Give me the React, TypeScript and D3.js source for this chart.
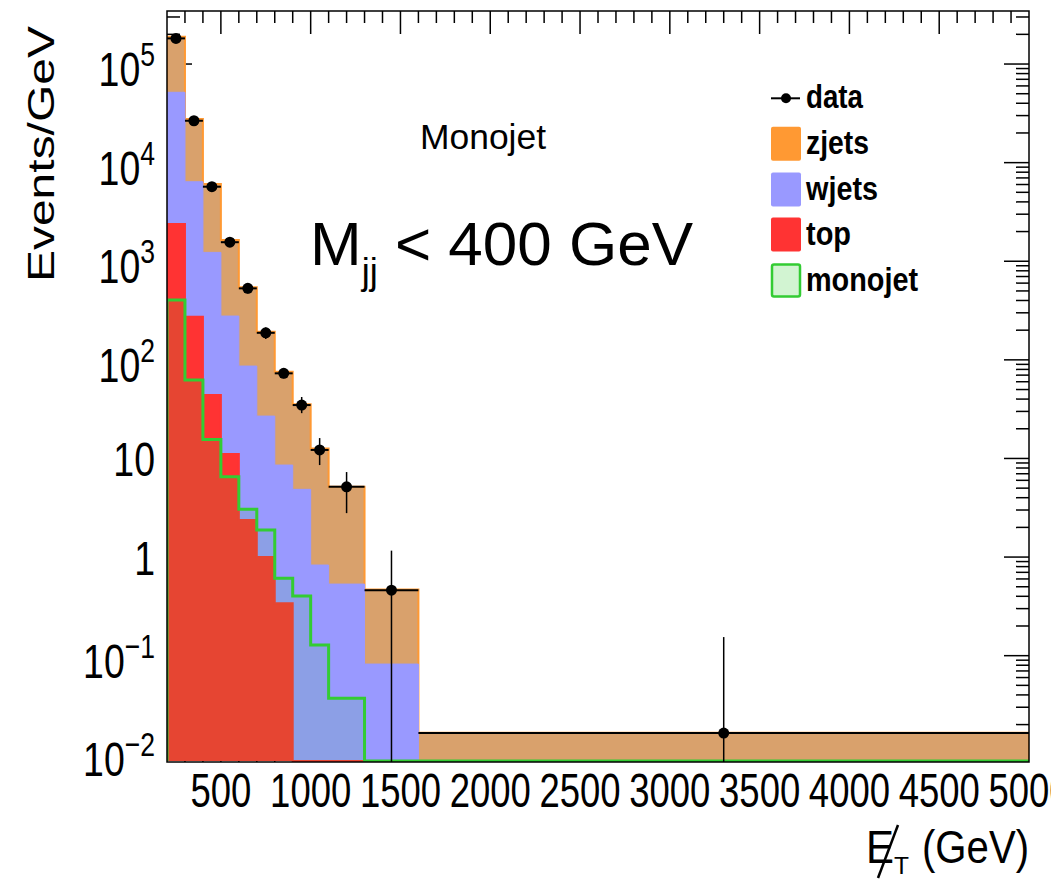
import React from 'react';
import * as d3 from 'd3';

// ---------- data ----------
const binEdges = [200, 300, 400, 500, 600, 700, 800, 900, 1000, 1100, 1300, 1600, 5000];
const dataValues = [182000, 26600, 5700, 1560, 531, 188, 73, 34.8, 12.2, 5.16, 0.462, 0.0164];
const dataErrLow = [2000, 600, 250, 120, 60, 25, 8, 6.0, 3.63, 2.37, 0.462, 0.0164];
const dataErrHigh = [2000, 600, 250, 120, 60, 25, 8, 7.2, 3.9, 2.12, 0.70, 0.138];
const topValues = [2380, 274, 44, 11.1, 2.37, 1.0, 0.341, 0, 0, 0, 0, 0];
const wjetsValues = [49320, 6126, 1186, 267, 84.1, 25.9, 8.23, 4.86, 0.83, 0.532, 0.0822, 0];
const zjetsValues = [137300, 21300, 4840, 1362, 457, 166, 67.1, 30.7, 11.8, 4.63, 0.388, 0.0165];
const monojetValues = [405, 62.4, 15.6, 6.52, 3.05, 1.88, 0.608, 0.403, 0.128, 0.0369, 0, 0];
const xTickValues = [500, 1000, 1500, 2000, 2500, 3000, 3500, 4000, 4500, 5000];
const xTickLabels = ['500', '1000', '1500', '2000', '2500', '3000', '3500', '4000', '4500', '5000'];
const yTickExponents = [-2, -1, 0, 1, 2, 3, 4, 5];
const legendLabels = ['data', 'zjets', 'wjets', 'top', 'monojet'];

// ---------- layout ----------
const W = 1051;
const H = 881;
const L = 167, R = 1029, T = 11, B = 762;
const yMin = 0.00835, yMax = 3.45e5;
const yBase = 761;
const FONT = '"Liberation Sans", Arial, Helvetica, sans-serif';

const x = d3.scaleLinear().domain([200, 5000]).range([L, R]);
const y = d3.scaleLog().domain([yMin, yMax]).range([B, T]);
const yc = (v: number) => (v <= yMin ? yBase : Math.min(y(v), yBase));

type Row = { [k: string]: number };
const rows: Row[] = dataValues.map((_, i) => ({
  top: topValues[i],
  wjets: wjetsValues[i],
  zjets: zjetsValues[i],
}));
const stack = d3.stack<Row>().keys(['top', 'wjets', 'zjets']);
const layers = stack(rows);

function stepPts(vals: number[]): [number, number][] {
  const pts: [number, number][] = [];
  vals.forEach((v, i) => {
    pts.push([x(binEdges[i]), yc(v)]);
    pts.push([x(binEdges[i + 1]), yc(v)]);
  });
  return pts;
}
const areaGen = d3.area<[number, number]>().x(d => d[0]).y0(yBase).y1(d => d[1]);
const lineGen = d3.line<[number, number]>().x(d => d[0]).y(d => d[1]);
function outline(vals: number[]) {
  const pts = stepPts(vals);
  return lineGen([[pts[0][0], yBase], ...pts, [pts[pts.length - 1][0], yBase]]);
}

const layerStyles = [
  { fill: '#ff3333', stroke: '#ff3333', sw: 2 },
  { fill: '#9999ff', stroke: '#9999ff', sw: 1 },
  { fill: '#d9a16c', stroke: '#ff9933', sw: 2 },
];

export default function App() {
  const cum = layers.map(l => l.map(d => d[1]));
  const rightTicks: { v: number; major: boolean }[] = [];
  for (let e = -3; e <= 5; e++) {
    for (let k = 1; k <= 9; k++) {
      const v = k * Math.pow(10, e);
      if (v >= yMin && v <= yMax) rightTicks.push({ v, major: k === 1 });
    }
  }
  const topTicks: { v: number; major: boolean }[] = [];
  for (let v = 300; v < 5000; v += 100) topTicks.push({ v, major: v % 500 === 0 });

  const lx = 771, rowY = [98.3, 143.7, 189.5, 234.5, 280.5];
  const legendWidths = [57, 63, 72, 45, 112];

  return (
    <svg width={W} height={H} style={{ position: 'absolute', left: 0, top: 0, background: '#fff' }}
      fontFamily={FONT}>
      <defs>
        <clipPath id="plotClip">
          <rect x={L} y={T} width={R - L} height={B - T} />
        </clipPath>
      </defs>

      <rect width={W} height={H} fill="#fff" />

      {/* axis ticks (drawn under histograms) */}
      <g stroke="#000" strokeWidth={1.5}>
        {rightTicks.map((t, i) => (
          <g key={'r' + i}>
            <line x1={R} x2={R - (t.major ? 25 : 13)} y1={y(t.v)} y2={y(t.v)} />
            <line x1={L} x2={L + (t.major ? 25 : 13)} y1={y(t.v)} y2={y(t.v)} />
          </g>
        ))}
        {topTicks.map((t, i) => (
          <g key={'t' + i}>
            <line x1={x(t.v)} x2={x(t.v)} y1={T} y2={T + (t.major ? 23 : 12)} />
            <line x1={x(t.v)} x2={x(t.v)} y1={B} y2={B - (t.major ? 23 : 12)} />
          </g>
        ))}
      </g>

      {/* stacked histograms */}
      <g clipPath="url(#plotClip)">
        {[2, 1, 0].map(li => (
          <g key={'layer' + li}>
            <path d={areaGen(stepPts(cum[li])) || ''} fill={layerStyles[li].fill} />
            <path d={outline(cum[li]) || ''} fill="none" stroke={layerStyles[li].stroke}
              strokeWidth={layerStyles[li].sw} />
          </g>
        ))}
        {/* monojet overlay (dotted fill approximated by a light green tint) */}
        <path d={areaGen(stepPts(monojetValues)) || ''} fill="#33cc33" fillOpacity={0.12} />
        <path d={outline(monojetValues) || ''} fill="none" stroke="#33cc33" strokeWidth={3} />

        {/* data */}
        <g stroke="#000">
          {dataValues.map((v, i) => {
            const xl = x(binEdges[i]), xh = x(binEdges[i + 1]);
            const xm = (xl + xh) / 2;
            const lo = v - dataErrLow[i];
            return (
              <g key={'d' + i}>
                <line x1={xl} x2={xh} y1={y(v)} y2={y(v)} strokeWidth={2} />
                <line x1={xm} x2={xm} y1={y(v + dataErrHigh[i])}
                  y2={lo <= yMin ? B + 5 : y(lo)} strokeWidth={1.5} />
                <circle cx={xm} cy={y(v)} r={5.5} fill="#000" stroke="none" />
              </g>
            );
          })}
        </g>
      </g>

      {/* frame */}
      <rect x={L} y={T} width={R - L} height={B - T} fill="none" stroke="#000" strokeWidth={1.5} />

      {/* y tick labels */}
      <g fontSize={48} fill="#000">
        {yTickExponents.map(e => {
          const ty = y(Math.pow(10, e));
          if (e === 0 || e === 1) {
            return (
              <text key={'yl' + e} transform={`translate(155,${ty + 17.5}) scale(0.78,1)`} textAnchor="end">
                {e === 0 ? '1' : '10'}
              </text>
            );
          }
          return (
            <text key={'yl' + e} transform={`translate(155,${ty + 22}) scale(0.78,1)`} textAnchor="end">
              10<tspan fontSize={34} dy={-20}>{e < 0 ? '\u2212' + String(-e) : String(e)}</tspan>
            </text>
          );
        })}
      </g>

      {/* x tick labels */}
      <g fontSize={48} fill="#000">
        {xTickValues.map((v, i) => (
          <text key={'xl' + i} transform={`translate(${x(v)},807) scale(0.76,1)`} textAnchor="middle">
            {xTickLabels[i]}
          </text>
        ))}
      </g>

      {/* axis titles */}
      <text transform="translate(54,26) rotate(-90) scale(1,0.76)" textAnchor="end" fontSize={48}>
        Events/GeV
      </text>
      <g fill="#000">
        <text x={866} y={863} fontSize={46} textLength={28} lengthAdjust="spacingAndGlyphs">E</text>
        <line x1={878} y1={878} x2={898} y2={825} stroke="#000" strokeWidth={2.5} />
        <text x={894} y={874} fontSize={24} textLength={15} lengthAdjust="spacingAndGlyphs">T</text>
        <text x={922} y={863} fontSize={46} textLength={107} lengthAdjust="spacingAndGlyphs">(GeV)</text>
      </g>

      {/* annotations */}
      <text x={420} y={149} fontSize={35} textLength={126} lengthAdjust="spacingAndGlyphs">Monojet</text>
      <text x={310} y={265} fontSize={62}>
        M<tspan fontSize={36} dy={19}>jj</tspan><tspan dy={-19}> &lt; 400 GeV</tspan>
      </text>

      {/* legend */}
      <g fontWeight="bold" fontSize={33}>
        <line x1={lx} x2={800} y1={rowY[0]} y2={rowY[0]} stroke="#000" strokeWidth={2} />
        <circle cx={786} cy={rowY[0]} r={5} fill="#000" />
        <rect x={lx} y={rowY[1] - 17} width={30} height={34} rx={2} fill="#ff9933" />
        <rect x={lx} y={rowY[2] - 17} width={30} height={34} rx={2} fill="#9999ff" />
        <rect x={lx} y={rowY[3] - 17} width={30} height={34} rx={2} fill="#ff3333" />
        <rect x={lx + 1} y={rowY[4] - 16} width={28} height={32} rx={2} fill="#33cc33" fillOpacity={0.22}
          stroke="#33cc33" strokeWidth={2.5} />
        {legendLabels.map((lab, i) => (
          <text key={lab} x={806} y={rowY[i] + 10} textLength={legendWidths[i]}
            lengthAdjust="spacingAndGlyphs">{lab}</text>
        ))}
      </g>
    </svg>
  );
}
